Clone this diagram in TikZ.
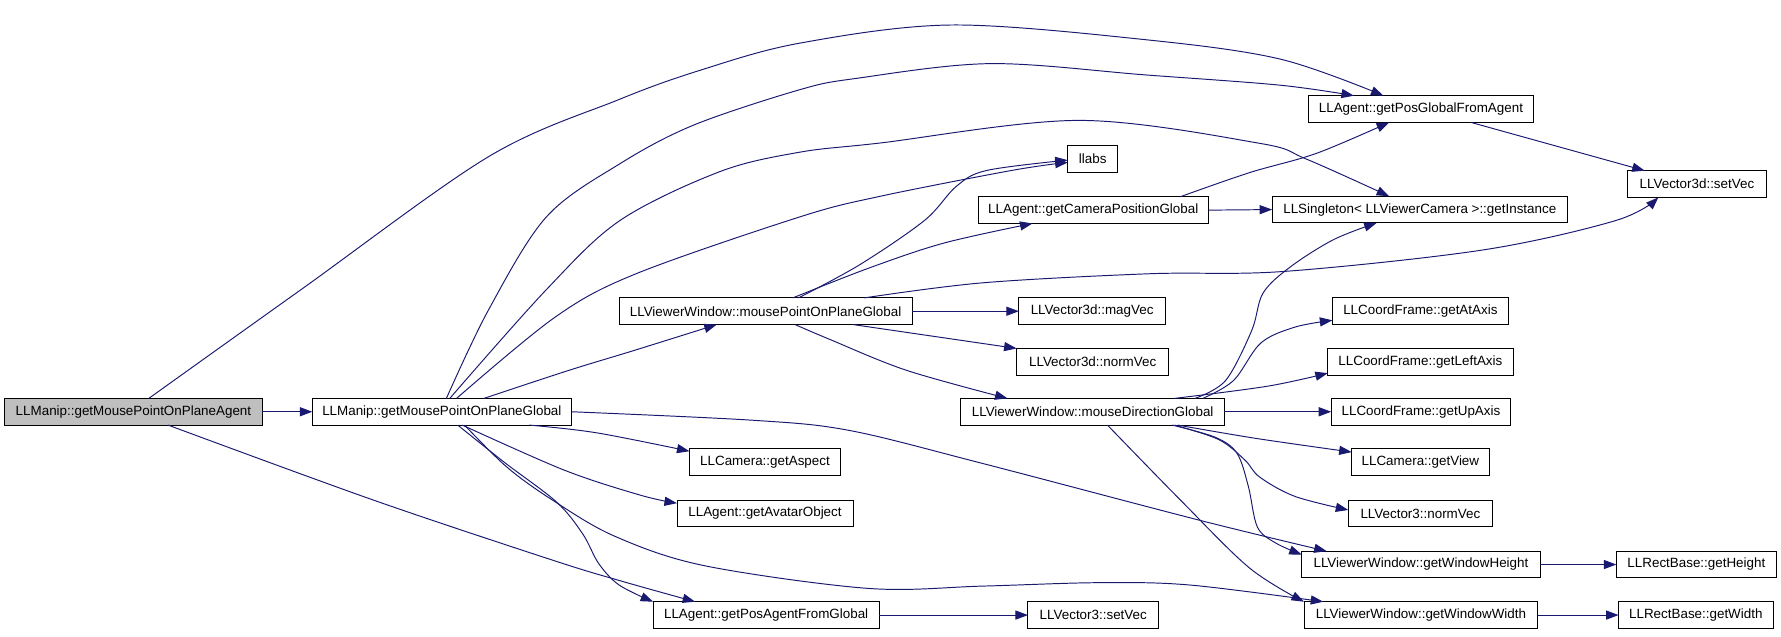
\documentclass[tikz,border=0pt]{standalone}
\usepackage{fontspec}
\setmainfont{Liberation Sans}
\usetikzlibrary{arrows.meta}
\definecolor{edgec}{HTML}{191970}
\definecolor{rootfill}{HTML}{BFBFBF}
\begin{document}
\begin{tikzpicture}[x=1pt,y=-1pt,
  box/.style={draw=black, line width=0.8pt, anchor=west, minimum height=23.5pt, inner sep=0pt, outer sep=0pt, font=\fontsize{11.8}{14}\selectfont},
  edge/.style={draw=edgec, line width=0.85pt, -{Triangle[length=11pt,width=8pt]}},
  sm/.style={smooth, tension=0.55}]
\useasboundingbox[fill=white] (0,0) rectangle (1568,560);

% nodes
\node[box,fill=rootfill,minimum width=227pt] (N0) at (4,362.5) {LLManip::getMousePointOnPlaneAgent};
\node[box,minimum width=228pt] (N1) at (275,362.5) {LLManip::getMousePointOnPlaneGlobal};
\node[box,minimum width=258pt] (vw) at (545,274) {LLViewerWindow::mousePointOnPlaneGlobal};
\node[box,minimum width=44pt] (llabs) at (940,140) {llabs};
\node[box,minimum width=203pt] (camPos) at (861,185) {LLAgent::getCameraPositionGlobal};
\node[box,minimum width=198pt] (posGlobal) at (1152,96) {LLAgent::getPosGlobalFromAgent};
\node[box,minimum width=260pt] (getInstance) at (1120,184.5) {LLSingleton< LLViewerCamera >::getInstance};
\node[box,minimum width=122pt] (setVecD) at (1433,162) {LLVector3d::setVec};
\node[box,minimum width=129pt] (magVec) at (897,274) {LLVector3d::magVec};
\node[box,minimum width=134pt] (normVecD) at (895,318.5) {LLVector3d::normVec};
\node[box,minimum width=232pt] (mouseDir) at (846,362.5) {LLViewerWindow::mouseDirectionGlobal};
\node[box,minimum width=155pt] (atAxis) at (1173,273.5) {LLCoordFrame::getAtAxis};
\node[box,minimum width=163pt] (leftAxis) at (1169,318.5) {LLCoordFrame::getLeftAxis};
\node[box,minimum width=158pt] (upAxis) at (1172,362.5) {LLCoordFrame::getUpAxis};
\node[box,minimum width=121pt] (getView) at (1190,407) {LLCamera::getView};
\node[box,minimum width=127pt] (normVec3) at (1187,452) {LLVector3::normVec};
\node[box,minimum width=210pt] (winHeight) at (1146,497) {LLViewerWindow::getWindowHeight};
\node[box,minimum width=141pt] (getHeight) at (1423,497) {LLRectBase::getHeight};
\node[box,minimum width=206pt] (winWidth) at (1148,541.5) {LLViewerWindow::getWindowWidth};
\node[box,minimum width=136pt] (getWidth) at (1425,541.5) {LLRectBase::getWidth};
\node[box,minimum width=133pt] (getAspect) at (607,407) {LLCamera::getAspect};
\node[box,minimum width=155pt] (avatarObj) at (596,452) {LLAgent::getAvatarObject};
\node[box,minimum width=199pt] (posAgent) at (575,541.5) {LLAgent::getPosAgentFromGlobal};
\node[box,minimum width=115pt] (setVec3) at (905,541.5) {LLVector3::setVec};

% straight edges
\draw[edge] (N0.east) -- (N1.west);
\draw[edge] (vw.east) -- (magVec.west);
\draw[edge] (camPos.east) -- (getInstance.west);
\draw[edge] (mouseDir.east) -- (upAxis.west);
\draw[edge] (winHeight.east) -- (getHeight.west);
\draw[edge] (winWidth.east) -- (getWidth.west);
\draw[edge] (posAgent.east) -- (setVec3.west);
\draw[edge] ([xshift=77pt]vw.south) -- (normVecD.north west);
\draw[edge] ([xshift=44pt]posGlobal.south) -- ([xshift=-46pt]setVecD.north);

% from N0
\draw[edge] plot[sm] coordinates {([xshift=13.5pt]N0.north) (265,255) (430,138) (544,88) (616,62) (704,38) (838,22) (1009,35) (1127,52) ([xshift=-33pt]posGlobal.north)};
\draw[edge] plot[sm] coordinates {([xshift=30.5pt]N0.south) (328,440) (486,493) (545,511) ([xshift=37pt]posAgent.north west)};

% from N1
\draw[edge] plot[sm] coordinates {([xshift=4pt]N1.north) (430,273) (481,191) (546,144) (611,110) (704,79) (754,69) (872,56) (1009,66) (1127,75) ([xshift=-59pt]posGlobal.north)};
\draw[edge] plot[sm] coordinates {([xshift=7pt]N1.north) (481,255) (546,194) (634,151) (704,134) (774,126) (950,106) (1108,126) (1150,140) ([xshift=-27pt]getInstance.north)};
\draw[edge] plot[sm] coordinates {([xshift=13pt]N1.north) (489,279) (560,241) (704,191) (774,173) (891,150) ([yshift=-3pt]llabs.west)};
\draw[edge] plot[sm] coordinates {([xshift=37pt]N1.north) (501,326) (560,308) ([xshift=-43pt]vw.south)};
\draw[edge] plot[sm] coordinates {(N1.east) (663,370) (748,379) (865,408) (1056,458) ([xshift=22pt]winHeight.north west)};
\draw[edge] plot[sm] coordinates {([xshift=20pt]N1.south) (446,411) (486,440) (541,472) (620,498) (764,518) (865,516) (966,513) (1047,515) ([xshift=17pt]winWidth.north west)};
\draw[edge] plot[sm] coordinates {([xshift=14pt]N1.south) (444,407) (490,442) (513,470) (527,496) (545,515) (posAgent.north west)};
\draw[edge] plot[sm] coordinates {([xshift=77pt]N1.south) (525,381) ([yshift=-2pt]getAspect.north west)};
\draw[edge] plot[sm] coordinates {([xshift=18pt]N1.south) (497,414) (564,436) ([yshift=9pt]avatarObj.west)};

% from vw
\draw[edge] plot[sm] coordinates {([xshift=29pt]vw.north) (757,233) (814,194) (842,164) (869,150) ([yshift=-1pt]llabs.west)};
\draw[edge] plot[sm] coordinates {([xshift=24pt]vw.north) (765,236) (831,214) ([xshift=-53.5pt]camPos.south)};
\draw[edge] plot[sm] coordinates {([xshift=87pt]vw.north) (865,249) (1012,241) (1130,239) (1306,220) (1423,194) ([xshift=-34pt]setVecD.south)};
\draw[edge] plot[sm] coordinates {([xshift=26pt]vw.south) (731,299) (798,326) ([xshift=-75pt]mouseDir.north)};

% from camPos
\draw[edge] plot[sm] coordinates {([xshift=76.5pt]camPos.north) (1100,152) (1159,135) ([xshift=-28pt]posGlobal.south)};

% from mouseDir
\draw[edge] plot[sm] coordinates {([xshift=90pt]mouseDir.north) (1079,335) (1102,291) (1112,258) (1136,235) (1174,211) ([xshift=-38pt]getInstance.south)};
\draw[edge] plot[sm] coordinates {([xshift=97pt]mouseDir.north) (1086,335) (1110,302) (1140,288) ([yshift=-8.5pt]atAxis.west)};
\draw[edge] plot[sm] coordinates {([xshift=72pt]mouseDir.north) (1116,340) ([yshift=-10pt]leftAxis.west)};
\draw[edge] plot[sm] coordinates {([xshift=75pt]mouseDir.south) (1106,386) ([yshift=9pt]getView.west)};
\draw[edge] plot[sm] coordinates {([xshift=72pt]mouseDir.south) (1073,387) (1096,405) (1109,420) (1140,437) ([yshift=3pt]normVec3.west)};
\draw[edge] plot[sm] coordinates {([xshift=70pt]mouseDir.south) (1070,385) (1089,399) (1099,428) (1107,464) (1123,478) ([yshift=-3pt]winHeight.north west)};
\draw[edge] plot[sm] coordinates {([xshift=13pt]mouseDir.south) (1039,440) (1100,500) (winWidth.north west)};
\end{tikzpicture}
\end{document}
